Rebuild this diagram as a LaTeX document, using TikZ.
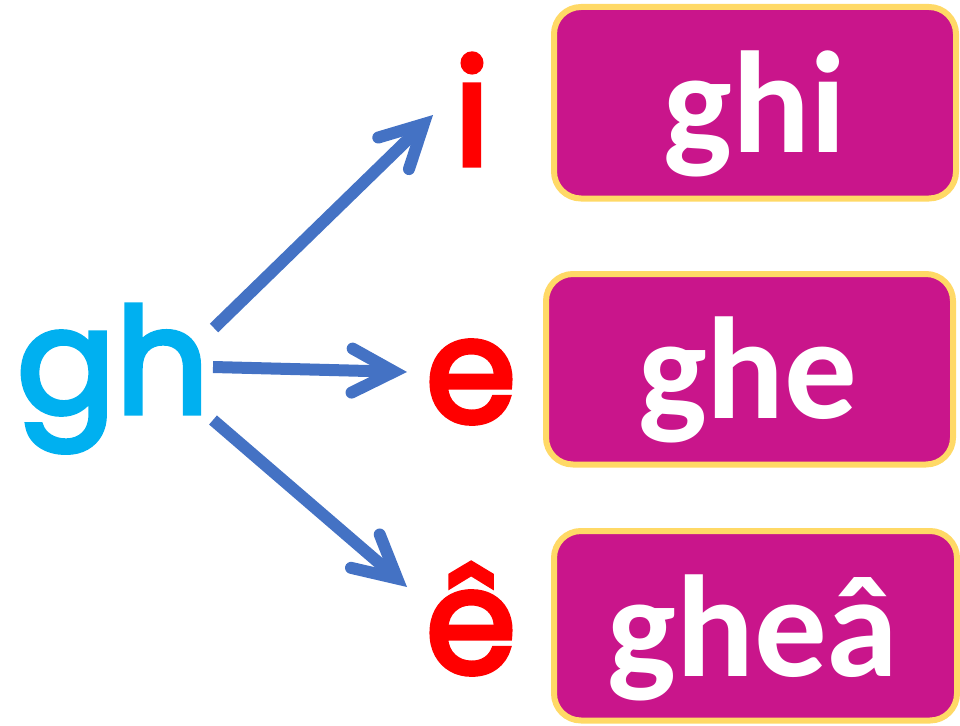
\documentclass[tikz,border=0pt]{standalone}
\usepackage{fontspec}
\setmainfont{Carlito}
\newfontfamily\geo[FakeBold=3.5]{Poppins}
\usetikzlibrary{arrows.meta}
\definecolor{arrowblue}{RGB}{68,114,196}
\definecolor{ghcyan}{RGB}{0,176,240}
\definecolor{boxmag}{RGB}{201,21,139}
\definecolor{boxgold}{RGB}{255,217,102}
\begin{document}
\begin{tikzpicture}[x=1pt,y=-1pt,
  conn/.style={draw=arrowblue, line width=12pt,
    -{Straight Barb[length=42pt,width=44pt,line cap=round,line join=miter]}},
  wordbox/.style={draw=boxgold, fill=boxmag, line width=6pt, rounded corners=27pt, inner sep=0pt},
  boxtext/.style={text=white, font=\fontsize{145}{145}\selectfont\bfseries, anchor=base, inner sep=0pt},
  letter/.style={text=red, font=\geo\fontsize{146}{146}\selectfont, anchor=base, inner sep=0pt}]
\useasboundingbox (0,0) rectangle (960,725);
% word boxes
\node[wordbox, minimum width=402pt, minimum height=191.5pt] (b1) at (755,102.75) {};
\node[wordbox, minimum width=407pt, minimum height=190.5pt] (b2) at (749.5,369.25) {};
\node[wordbox, minimum width=403pt, minimum height=189.5pt] (b3) at (755.5,625.75) {};
\node[boxtext] (w1) at (755,152) {ghi};
\node[boxtext] (w2) at (748,418) {ghe};
\node[boxtext] (w3) at (753,676) {gheâ};
% letters
\node[letter, text=ghcyan] (gh) at (113,413) {gh};
\node[letter] (li) at (472,165) {i};
\node[letter] (le) at (471,422) {e};
\node[letter] (lec) at (471,673) {ê};
% arrow ends
\coordinate (s1) at (214,328);
\coordinate (t1) at (433,115);
\coordinate (s2) at (213,367);
\coordinate (t2) at (407,372);
\coordinate (s3) at (213,420);
\coordinate (t3) at (407,587);
\draw[conn] (s1) -- (t1);
\draw[conn] (s2) -- (t2);
\draw[conn] (s3) -- (t3);
\end{tikzpicture}
\end{document}
